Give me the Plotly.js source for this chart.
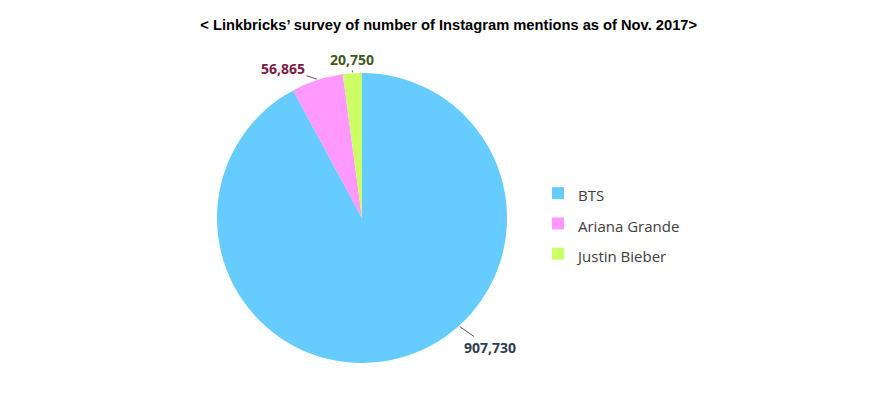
<!DOCTYPE html>
<html><head><meta charset="utf-8">
<script src="https://cdn.plot.ly/plotly-3.0.1.min.js"></script>
<style>html,body{margin:0;padding:0;background:#fff}#chart{width:885px;height:397px}</style>
</head><body><div id="chart"></div>
<script>
const artists = ["BTS", "Ariana Grande", "Justin Bieber"];
const mentions = [907730, 56865, 20750];
const colors = ["#66ccff", "#ff99ff", "#ccff66"];
const labelColors = ["#2d3c50", "#7a1c45", "#3f5a1e"];
const titleText = "< Linkbricks’ survey of number of Instagram mentions as of Nov. 2017>";

const W = 885, H = 397, mt = 73, mb = 34;
const cx = 362, cy = 218, R = 145;
function toPaper(px, py){ return [px / W, (H - mb - py) / (H - mt - mb)]; }
const total = mentions.reduce((a,b)=>a+b,0);
let cum = 0;
const mids = mentions.map(v => { const m = cum + v/2; cum += v; return m/total*360; });
mids[0] = 138; // BTS label sits at lower right
const offsets = [[30, 21], [-34, -11], [0, -13]];
const annotations = mentions.map((v,i) => {
  const a = mids[i] * Math.PI/180;
  const px = cx + (R+1)*Math.sin(a), py = cy - (R+1)*Math.cos(a);
  const [xp, yp] = toPaper(px, py);
  return {x: xp, y: yp, xref:'paper', yref:'paper', text: v.toLocaleString('en-US'),
    showarrow: true, arrowhead: 0, arrowwidth: 1, arrowcolor: '#555', standoff: 0, startstandoff: 0,
    ax: offsets[i][0], ay: offsets[i][1],
    font: {family: 'Open Sans', size: 14, color: labelColors[i], weight: 'bold'}};
});

Plotly.newPlot('chart', [{
  type: 'pie', labels: artists.map(a => '<span style="font-size:15px">' + a + '</span>'),
  values: mentions, sort: false, direction: 'clockwise', rotation: 0,
  marker: {colors: colors, line: {width: 0}}, textinfo: 'none', hoverinfo: 'label+value',
  domain: {x: [(cx-R)/W, (cx+R)/W], y: [0, 1]}
}], {
  width: W, height: H,
  margin: {l: 0, r: 0, t: mt, b: mb},
  paper_bgcolor: '#fff',
  title: {text: titleText, x: 0.507, xanchor: 'center', y: 1 - 25/H, yanchor: 'middle',
    font: {family: 'Liberation Sans', size: 14.7, color: '#000', weight: 'bold'}},
  showlegend: true,
  legend: {x: 538/W, y: toPaper(0, 173)[1], xanchor: 'left', yanchor: 'top',
    font: {family: 'Open Sans', size: 21, color: '#404040'}},
  annotations: annotations
}, {displayModeBar: false, staticPlot: true});
</script></body></html>
